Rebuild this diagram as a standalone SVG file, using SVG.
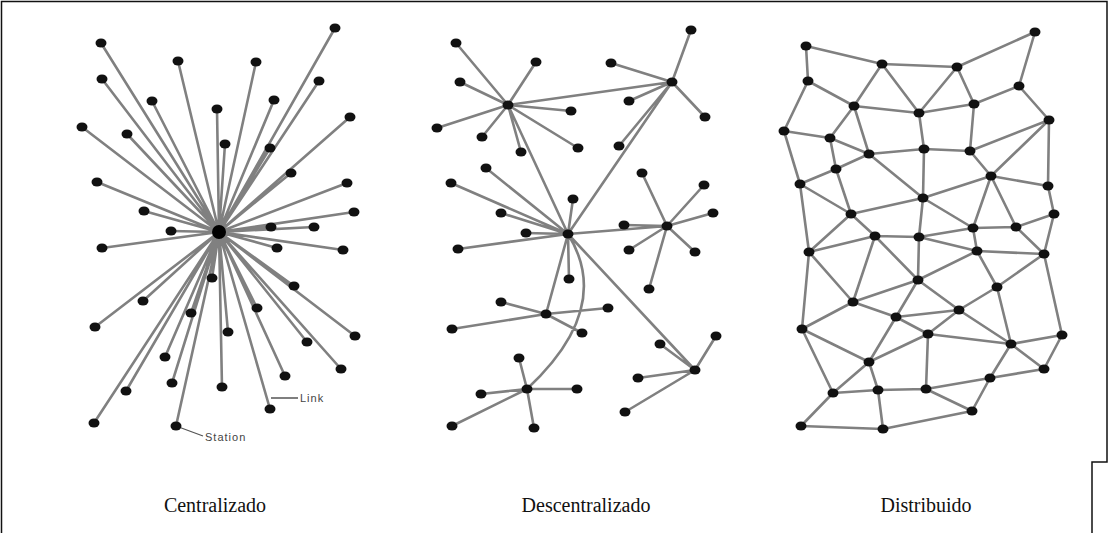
<svg xmlns="http://www.w3.org/2000/svg" width="1109" height="533" viewBox="0 0 1109 533">
<style>
.e{stroke:#808080;stroke-width:2.6;fill:none;stroke-linecap:round}
.n{fill:#111}
.lbl{font-family:"Liberation Serif","Times New Roman",serif;font-size:20px;fill:#111}
.sm{font-family:"Liberation Sans",Arial,sans-serif;font-size:11px;letter-spacing:1px;fill:#444}
</style>
<rect x="0" y="0" width="1109" height="533" fill="#fff"/>
<path d="M1.5 533V1.5H1107V462H1092V533" fill="none" stroke="#111" stroke-width="1.5"/>

<g id="connectors">
<g id="c-links">
<path class="e" d="M219 232L101 43M219 232L178 61M219 232L102 79M219 232L152 101M219 232L217 109M219 232L82 127M219 232L127 134M219 232L225 144M219 232L97 182M219 232L144 211M219 232L171 231M219 232L335 28M219 232L256 62M219 232L319 81M219 232L274 100M219 232L350 117M219 232L270 148M219 232L291 173M219 232L347 183M219 232L354 212M219 232L271 227M219 232L314 227M219 232L102 248M219 232L212 278M219 232L143 301M219 232L191 313M219 232L95 327M219 232L228 332M219 232L165 357M219 232L172 383M219 232L222 387M219 232L126 391M219 232L94 423M219 232L176 426M219 232L277 248M219 232L343 250M219 232L294 286M219 232L257 308M219 232L355 336M219 232L307 342M219 232L341 369M219 232L285 376M219 232L270 409"/>
<path d="M176 426L203 436M271 398L298 398" stroke="#555" stroke-width="1.3" fill="none"/>
</g>
<g id="d-links">
<path class="e" d="M508 105L456 43M508 105L536 62M508 105L460 82M508 105L571 111M508 105L437 128M508 105L482 137M508 105L521 152M508 105L578 148M508 105L568 234M508 105L672 82M672 82L691 30M672 82L611 63M672 82L629 101M672 82L705 117M672 82L619 146M672 82L568 234M667 226L642 173M667 226L704 185M667 226L713 213M667 226L624 225M667 226L629 250M667 226L695 252M667 226L649 289M667 226L568 234M695 370L716 336M695 370L660 344M695 370L638 378M695 370L625 412M695 370L568 234M568 234L486 168M568 234L451 183M568 234L501 213M568 234L526 233M568 234L458 249M568 234L573 199M568 234L569 279M568 234L546 314M546 314L501 302M546 314L452 329M546 314L582 333M546 314L608 308M527 389L519 358M527 389L481 394M527 389L577 389M527 389L452 426M527 389L534 428M568 234Q614 308 527 389"/>
</g>
<g id="m-links">
<path class="e" d="M806 46L882 64M806 46L808 81M882 64L854 106M882 64L919 113M882 64L957 67M808 81L854 106M808 81L784 131M854 106L919 113M854 106L830 138M854 106L869 154M919 113L924 149M919 113L957 67M919 113L974 104M784 131L830 138M784 131L800 184M830 138L869 154M830 138L836 169M869 154L924 149M869 154L836 169M869 154L923 198M924 149L923 198M924 149L970 151M836 169L800 184M836 169L851 214M800 184L851 214M800 184L809 252M923 198L851 214M923 198L919 237M923 198L991 176M923 198L973 228M851 214L875 236M851 214L809 252M875 236L919 237M875 236L809 252M875 236L853 302M875 236L918 280M919 237L918 280M919 237L973 228M919 237L977 251"/>
<path class="e" d="M1035 32L957 67M1035 32L1019 86M957 67L974 104M1019 86L974 104M1019 86L1049 120M974 104L970 151M1049 120L970 151M1049 120L991 176M1049 120L1048 186M970 151L991 176M991 176L1048 186M991 176L973 228M991 176L1016 227M1048 186L1054 214M1054 214L1016 227M1054 214L1044 254M973 228L1016 227M973 228L977 251M1016 227L1044 254"/>
<path class="e" d="M809 252L853 302M809 252L802 329M918 280L853 302M918 280L896 317M918 280L977 251M918 280L959 310M853 302L896 317M853 302L802 329M896 317L928 334M896 317L869 362M896 317L959 310M802 329L869 362M802 329L833 393M928 334L869 362M928 334L926 389M928 334L959 310M928 334L1011 344M869 362L833 393M869 362L878 390M833 393L878 390M833 393L801 426M878 390L926 389M878 390L883 429M926 389L990 378M926 389L972 411M801 426L883 429M883 429L972 411"/>
<path class="e" d="M977 251L1044 254M977 251L997 287M1044 254L997 287M1044 254L1062 335M997 287L959 310M997 287L1011 344M959 310L1011 344M1062 335L1011 344M1062 335L1044 369M1011 344L1044 369M1011 344L990 378M1044 369L990 378M990 378L972 411"/>
</g>
</g>

<g id="hub-central"><circle cx="219" cy="232" r="7" fill="#000"/></g>
<g id="nodes-central" class="n">
<ellipse cx="101" cy="43" rx="5.5" ry="4.5"/><ellipse cx="178" cy="61" rx="5.5" ry="4.5"/><ellipse cx="102" cy="79" rx="5.5" ry="4.5"/><ellipse cx="152" cy="101" rx="5.5" ry="4.5"/><ellipse cx="217" cy="109" rx="5.5" ry="4.5"/><ellipse cx="82" cy="127" rx="5.5" ry="4.5"/><ellipse cx="127" cy="134" rx="5.5" ry="4.5"/><ellipse cx="225" cy="144" rx="5.5" ry="4.5"/><ellipse cx="97" cy="182" rx="5.5" ry="4.5"/><ellipse cx="144" cy="211" rx="5.5" ry="4.5"/><ellipse cx="171" cy="231" rx="5.5" ry="4.5"/><ellipse cx="335" cy="28" rx="5.5" ry="4.5"/><ellipse cx="256" cy="62" rx="5.5" ry="4.5"/><ellipse cx="319" cy="81" rx="5.5" ry="4.5"/><ellipse cx="274" cy="100" rx="5.5" ry="4.5"/><ellipse cx="350" cy="117" rx="5.5" ry="4.5"/><ellipse cx="270" cy="148" rx="5.5" ry="4.5"/><ellipse cx="291" cy="173" rx="5.5" ry="4.5"/><ellipse cx="347" cy="183" rx="5.5" ry="4.5"/><ellipse cx="354" cy="212" rx="5.5" ry="4.5"/><ellipse cx="271" cy="227" rx="5.5" ry="4.5"/><ellipse cx="314" cy="227" rx="5.5" ry="4.5"/><ellipse cx="102" cy="248" rx="5.5" ry="4.5"/><ellipse cx="212" cy="278" rx="5.5" ry="4.5"/><ellipse cx="143" cy="301" rx="5.5" ry="4.5"/><ellipse cx="191" cy="313" rx="5.5" ry="4.5"/><ellipse cx="95" cy="327" rx="5.5" ry="4.5"/><ellipse cx="228" cy="332" rx="5.5" ry="4.5"/><ellipse cx="165" cy="357" rx="5.5" ry="4.5"/><ellipse cx="172" cy="383" rx="5.5" ry="4.5"/><ellipse cx="222" cy="387" rx="5.5" ry="4.5"/><ellipse cx="126" cy="391" rx="5.5" ry="4.5"/><ellipse cx="94" cy="423" rx="5.5" ry="4.5"/><ellipse cx="176" cy="426" rx="5.5" ry="4.5"/><ellipse cx="277" cy="248" rx="5.5" ry="4.5"/><ellipse cx="343" cy="250" rx="5.5" ry="4.5"/><ellipse cx="294" cy="286" rx="5.5" ry="4.5"/><ellipse cx="257" cy="308" rx="5.5" ry="4.5"/><ellipse cx="355" cy="336" rx="5.5" ry="4.5"/><ellipse cx="307" cy="342" rx="5.5" ry="4.5"/><ellipse cx="341" cy="369" rx="5.5" ry="4.5"/><ellipse cx="285" cy="376" rx="5.5" ry="4.5"/><ellipse cx="270" cy="409" rx="5.5" ry="4.5"/>
</g>
<g id="nodes-decentral" class="n">
<ellipse cx="508" cy="105" rx="5.5" ry="4.5"/><ellipse cx="568" cy="234" rx="5.5" ry="4.5"/><ellipse cx="672" cy="82" rx="5.5" ry="4.5"/><ellipse cx="667" cy="226" rx="5.5" ry="4.5"/><ellipse cx="695" cy="370" rx="5.5" ry="4.5"/><ellipse cx="546" cy="314" rx="5.5" ry="4.5"/><ellipse cx="527" cy="389" rx="5.5" ry="4.5"/>
<ellipse cx="456" cy="43" rx="5.5" ry="4.5"/><ellipse cx="536" cy="62" rx="5.5" ry="4.5"/><ellipse cx="460" cy="82" rx="5.5" ry="4.5"/><ellipse cx="571" cy="111" rx="5.5" ry="4.5"/><ellipse cx="437" cy="128" rx="5.5" ry="4.5"/><ellipse cx="482" cy="137" rx="5.5" ry="4.5"/><ellipse cx="521" cy="152" rx="5.5" ry="4.5"/><ellipse cx="578" cy="148" rx="5.5" ry="4.5"/>
<ellipse cx="691" cy="30" rx="5.5" ry="4.5"/><ellipse cx="611" cy="63" rx="5.5" ry="4.5"/><ellipse cx="629" cy="101" rx="5.5" ry="4.5"/><ellipse cx="705" cy="117" rx="5.5" ry="4.5"/><ellipse cx="619" cy="146" rx="5.5" ry="4.5"/>
<ellipse cx="642" cy="173" rx="5.5" ry="4.5"/><ellipse cx="704" cy="185" rx="5.5" ry="4.5"/><ellipse cx="713" cy="213" rx="5.5" ry="4.5"/><ellipse cx="624" cy="225" rx="5.5" ry="4.5"/><ellipse cx="629" cy="250" rx="5.5" ry="4.5"/><ellipse cx="695" cy="252" rx="5.5" ry="4.5"/><ellipse cx="649" cy="289" rx="5.5" ry="4.5"/>
<ellipse cx="716" cy="336" rx="5.5" ry="4.5"/><ellipse cx="660" cy="344" rx="5.5" ry="4.5"/><ellipse cx="638" cy="378" rx="5.5" ry="4.5"/><ellipse cx="625" cy="412" rx="5.5" ry="4.5"/>
<ellipse cx="486" cy="168" rx="5.5" ry="4.5"/><ellipse cx="451" cy="183" rx="5.5" ry="4.5"/><ellipse cx="501" cy="213" rx="5.5" ry="4.5"/><ellipse cx="526" cy="233" rx="5.5" ry="4.5"/><ellipse cx="458" cy="249" rx="5.5" ry="4.5"/><ellipse cx="573" cy="199" rx="5.5" ry="4.5"/><ellipse cx="569" cy="279" rx="5.5" ry="4.5"/>
<ellipse cx="501" cy="302" rx="5.5" ry="4.5"/><ellipse cx="452" cy="329" rx="5.5" ry="4.5"/><ellipse cx="582" cy="333" rx="5.5" ry="4.5"/><ellipse cx="608" cy="308" rx="5.5" ry="4.5"/>
<ellipse cx="519" cy="358" rx="5.5" ry="4.5"/><ellipse cx="481" cy="394" rx="5.5" ry="4.5"/><ellipse cx="577" cy="389" rx="5.5" ry="4.5"/><ellipse cx="452" cy="426" rx="5.5" ry="4.5"/><ellipse cx="534" cy="428" rx="5.5" ry="4.5"/>
</g>
<g id="nodes-distrib" class="n">
<ellipse cx="806" cy="46" rx="5.5" ry="4.5"/><ellipse cx="882" cy="64" rx="5.5" ry="4.5"/><ellipse cx="808" cy="81" rx="5.5" ry="4.5"/><ellipse cx="854" cy="106" rx="5.5" ry="4.5"/><ellipse cx="919" cy="113" rx="5.5" ry="4.5"/><ellipse cx="784" cy="131" rx="5.5" ry="4.5"/><ellipse cx="830" cy="138" rx="5.5" ry="4.5"/><ellipse cx="869" cy="154" rx="5.5" ry="4.5"/><ellipse cx="924" cy="149" rx="5.5" ry="4.5"/><ellipse cx="836" cy="169" rx="5.5" ry="4.5"/><ellipse cx="800" cy="184" rx="5.5" ry="4.5"/><ellipse cx="923" cy="198" rx="5.5" ry="4.5"/><ellipse cx="851" cy="214" rx="5.5" ry="4.5"/><ellipse cx="875" cy="236" rx="5.5" ry="4.5"/><ellipse cx="919" cy="237" rx="5.5" ry="4.5"/>
<ellipse cx="1035" cy="32" rx="5.5" ry="4.5"/><ellipse cx="957" cy="67" rx="5.5" ry="4.5"/><ellipse cx="1019" cy="86" rx="5.5" ry="4.5"/><ellipse cx="974" cy="104" rx="5.5" ry="4.5"/><ellipse cx="1049" cy="120" rx="5.5" ry="4.5"/><ellipse cx="970" cy="151" rx="5.5" ry="4.5"/><ellipse cx="991" cy="176" rx="5.5" ry="4.5"/><ellipse cx="1048" cy="186" rx="5.5" ry="4.5"/><ellipse cx="1054" cy="214" rx="5.5" ry="4.5"/><ellipse cx="973" cy="228" rx="5.5" ry="4.5"/><ellipse cx="1016" cy="227" rx="5.5" ry="4.5"/>
<ellipse cx="809" cy="252" rx="5.5" ry="4.5"/><ellipse cx="918" cy="280" rx="5.5" ry="4.5"/><ellipse cx="853" cy="302" rx="5.5" ry="4.5"/><ellipse cx="896" cy="317" rx="5.5" ry="4.5"/><ellipse cx="802" cy="329" rx="5.5" ry="4.5"/><ellipse cx="928" cy="334" rx="5.5" ry="4.5"/><ellipse cx="869" cy="362" rx="5.5" ry="4.5"/><ellipse cx="833" cy="393" rx="5.5" ry="4.5"/><ellipse cx="878" cy="390" rx="5.5" ry="4.5"/><ellipse cx="926" cy="389" rx="5.5" ry="4.5"/><ellipse cx="801" cy="426" rx="5.5" ry="4.5"/><ellipse cx="883" cy="429" rx="5.5" ry="4.5"/>
<ellipse cx="977" cy="251" rx="5.5" ry="4.5"/><ellipse cx="1044" cy="254" rx="5.5" ry="4.5"/><ellipse cx="997" cy="287" rx="5.5" ry="4.5"/><ellipse cx="959" cy="310" rx="5.5" ry="4.5"/><ellipse cx="1062" cy="335" rx="5.5" ry="4.5"/><ellipse cx="1011" cy="344" rx="5.5" ry="4.5"/><ellipse cx="1044" cy="369" rx="5.5" ry="4.5"/><ellipse cx="990" cy="378" rx="5.5" ry="4.5"/><ellipse cx="972" cy="411" rx="5.5" ry="4.5"/>
</g>

<g id="labels">
<text class="sm" x="300" y="402">Link</text>
<text class="sm" x="205" y="441">Station</text>
<text class="lbl" x="215" y="512" text-anchor="middle">Centralizado</text>
<text class="lbl" x="586" y="512" text-anchor="middle">Descentralizado</text>
<text class="lbl" x="926" y="512" text-anchor="middle">Distribuido</text>
</g>
</svg>
